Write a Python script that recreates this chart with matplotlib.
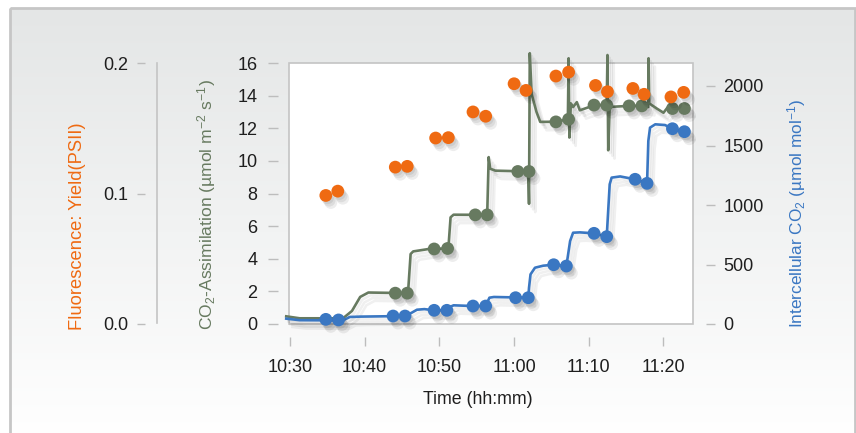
import numpy as np
import matplotlib
matplotlib.use("Agg")
import matplotlib.pyplot as plt
import matplotlib.patheffects as pe
from matplotlib.patches import Rectangle
from matplotlib.lines import Line2D

plt.rcParams['font.family'] = ['Liberation Sans', 'DejaVu Sans']
plt.rcParams['mathtext.fontset'] = 'custom'
plt.rcParams['mathtext.rm'] = 'Liberation Sans'
plt.rcParams['mathtext.it'] = 'Liberation Sans'
plt.rcParams['mathtext.default'] = 'regular'

# minutes after 10:30
tick_minutes = [0, 10, 20, 30, 40, 50]
tick_labels = ['10:30', '10:40', '10:50', '11:00', '11:10', '11:20']

# Fluorescence yield (PSII) spot measurements
fl_time = [4.8, 6.4, 14.1, 15.7, 19.5, 21.2, 24.5, 26.2, 30.0, 31.6,
           35.6, 37.3, 40.9, 42.5, 45.9, 47.4, 51.0, 52.7]
fl_yield = [0.0985, 0.1018, 0.1202, 0.1208, 0.1425, 0.1428, 0.1625, 0.1592, 0.1841, 0.179,
            0.190, 0.193, 0.1828, 0.178, 0.1805, 0.176, 0.174, 0.1775]

# CO2 assimilation, averaged points
a_time = [14.1, 15.7, 19.3, 21.1, 24.8, 26.4, 30.5, 32.0, 35.6, 37.3,
          40.7, 42.4, 45.4, 47.1, 51.2, 52.8]
a_vals = [1.89, 1.89, 4.60, 4.63, 6.69, 6.69, 9.35, 9.35, 12.39, 12.55,
          13.42, 13.42, 13.37, 13.37, 13.21, 13.21]

# CO2 assimilation, continuous trace
a_line_t = [-0.5, 1.3, 7.1, 8.3, 9.4, 10.5, 15.8, 16.15, 16.5, 18.6, 21.2, 21.5, 21.9, 26.4,
            26.6, 26.8, 27.5, 31.9, 32.0, 32.1, 32.35, 33.0, 33.5, 35.6, 37.2, 37.3, 37.4,
            37.6, 37.9, 38.4, 38.8, 40.8, 42.4, 42.5, 42.6, 42.8, 45.5, 47.1, 47.95, 48.0,
            48.1, 49.1, 50.0, 50.5, 53.3]
a_line_v = [0.47, 0.35, 0.35, 0.8, 1.66, 1.93, 1.89, 4.29, 4.45, 4.6, 4.63, 6.54, 6.7, 6.69,
            10.23, 9.52, 9.4, 9.35, 7.37, 16.6, 14.1, 13.0, 12.39, 12.4, 12.55, 16.29, 11.43,
            13.52, 13.3, 13.6, 13.1, 13.42, 13.42, 16.49, 10.65, 13.31, 13.37, 13.37, 13.3, 16.29,
            13.52, 13.21, 12.95, 13.25, 13.21]

# intercellular CO2, averaged points
ci_time = [4.8, 6.5, 13.8, 15.4, 19.3, 21.0, 24.5, 26.2, 30.2, 31.9,
           35.3, 37.0, 40.7, 42.4, 46.2, 47.8, 51.2, 52.8]
ci_vals = [39, 34, 67, 67, 115, 115, 151, 151, 221, 221,
           498, 487, 762, 734, 1216, 1182, 1641, 1616]

# intercellular CO2, continuous trace
ci_line_t = [-0.5, 1.3, 7.1, 8.0, 9.4, 15.4, 16.3, 17.0, 18.0, 19.3, 21.0, 21.2, 21.9, 24.5,
             26.2, 26.7, 27.3, 31.9, 32.0, 32.2, 32.8, 33.9, 35.3, 37.0, 37.5, 37.9, 38.8,
             40.7, 42.4, 42.8, 43.06, 44.2, 46.2, 47.8, 47.97, 48.2, 48.9, 50.2, 51.2, 52.8, 53.3]
ci_line_v = [45, 32, 30, 59, 62, 67, 95, 120, 125, 115, 115, 137, 157, 151,
             151, 221, 227, 221, 305, 417, 473, 490, 498, 487, 697, 767, 770,
             762, 734, 1174, 1230, 1240, 1216, 1182, 1538, 1650, 1678, 1672, 1641, 1616, 1616]

ORANGE = '#ef6a12'
GREEN = '#677a60'
BLUE = '#3a77c2'
TICK_C = '#bdbdbd'
TXT = '#1e1e1e'

W, H = 856, 433
fig = plt.figure(figsize=(W / 100, H / 100), dpi=100)
fig.patch.set_facecolor('white')

# background panel with vertical gradient
bg = fig.add_axes([0, 0, 1, 1], zorder=-10)
bg.axis('off')
grad = np.linspace(0, 1, 256).reshape(-1, 1)
top_c = np.array([0.894, 0.902, 0.902])
cols = top_c + (1 - top_c) * grad
bg.imshow(cols[:, None, :].repeat(2, axis=1), extent=[10, 855, 440, 8], aspect='auto')
bg.add_patch(Rectangle((10, 8), 845, 440, fill=False, edgecolor='#c6c6c6', lw=2))
bg.set_xlim(0, W)
bg.set_ylim(H, 0)

left, right, top, bottom = 289, 693, 63, 324
ax = fig.add_axes([left / W, 1 - bottom / H, (right - left) / W, (bottom - top) / H])
ax.set_facecolor('white')
for s in ax.spines.values():
    s.set_visible(False)
ax.patch.set_edgecolor('#c4c4c4')
ax.patch.set_linewidth(1.2)

ax2 = ax.twinx()
ax3 = ax.twinx()
for a in (ax2, ax3):
    for s in a.spines.values():
        s.set_visible(False)
    a.patch.set_visible(False)

# soft drop shadow built from a few faint offset copies
line_fx = [pe.SimpleLineShadow(offset=(1.5 * k, -2.0 * k), shadow_color='k', alpha=0.06) for k in (1, 2, 3)]
line_fx.append(pe.Normal())
dot_fx = [pe.SimplePatchShadow(offset=(1.2 * k, -1.7 * k), shadow_rgbFace='k', alpha=0.07) for k in (1, 2, 3)]
dot_fx.append(pe.Normal())

ax.plot(a_line_t, a_line_v, color=GREEN, lw=1.9, clip_on=False, path_effects=line_fx)
ax.plot(a_time, a_vals, 'o', color=GREEN, ms=9.2, mew=0, clip_on=False, path_effects=dot_fx)
ax2.plot(ci_line_t, ci_line_v, color=BLUE, lw=1.9, clip_on=False, path_effects=line_fx)
ax2.plot(ci_time, ci_vals, 'o', color=BLUE, ms=9.2, mew=0, clip_on=False, path_effects=dot_fx)
ax3.plot(fl_time, fl_yield, 'o', color=ORANGE, ms=9.2, mew=0, clip_on=False, path_effects=dot_fx)

ax.set_xlim(-0.13, 53.95)
ax.set_ylim(0, 16)
ax2.set_ylim(0, 2000 * 261 / 238)
ax3.set_ylim(0, 0.2)

ax.set_xticks(tick_minutes)
ax.set_xticklabels(tick_labels)
ax.set_yticks(range(0, 17, 2))
ax2.set_yticks(range(0, 2001, 500))
ax3.set_yticks([0.0, 0.1, 0.2])
ax3.set_yticklabels(['0.0', '0.1', '0.2'])

ax.spines['bottom'].set_position(('outward', 9.4))
ax.spines['left'].set_position(('outward', 7.9))
ax2.spines['right'].set_position(('outward', 9.4))
ax3.spines['left'].set_position(('outward', 103.7))
ax3.yaxis.set_ticks_position('left')
ax3.yaxis.set_label_position('left')

ax.tick_params(axis='x', length=6.5, width=1, color=TICK_C, pad=9, labelsize=13, labelcolor=TXT)
ax.tick_params(axis='y', length=7.2, width=1, color=TICK_C, pad=7.5, labelsize=13, labelcolor=TXT)
ax2.tick_params(axis='y', length=6.5, width=1, color=TICK_C, pad=5.8, labelsize=13, labelcolor=TXT)
ax3.tick_params(axis='y', length=5.8, width=1, color=TICK_C, pad=6.5, labelsize=13, labelcolor=TXT)

# separate vertical rule of the fluorescence axis
fig.add_artist(Line2D([157 / W, 157 / W], [1 - 323 / H, 1 - 63 / H], color='#c4c4c4', lw=1.2))

fig.text(78 / W, 1 - 330 / H, 'Fluorescence: Yield(PSII)', rotation=90, ha='center', va='bottom',
         color=ORANGE, fontsize=13.2)
fig.text(207 / W, 1 - 330 / H, 'CO$_2$-Assimilation (µmol m$^{-2}$ s$^{-1}$)', rotation=90,
         ha='center', va='bottom', color=GREEN, fontsize=12.6)
fig.text(797 / W, 1 - 328 / H, 'Intercellular CO$_2$ (µmol mol$^{-1}$)', rotation=90,
         ha='center', va='bottom', color=BLUE, fontsize=12.4)
fig.text(478 / W, 1 - 400 / H, 'Time (hh:mm)', ha='center', va='center', color=TXT, fontsize=12.8)

fig.savefig('out.png', dpi=100)
